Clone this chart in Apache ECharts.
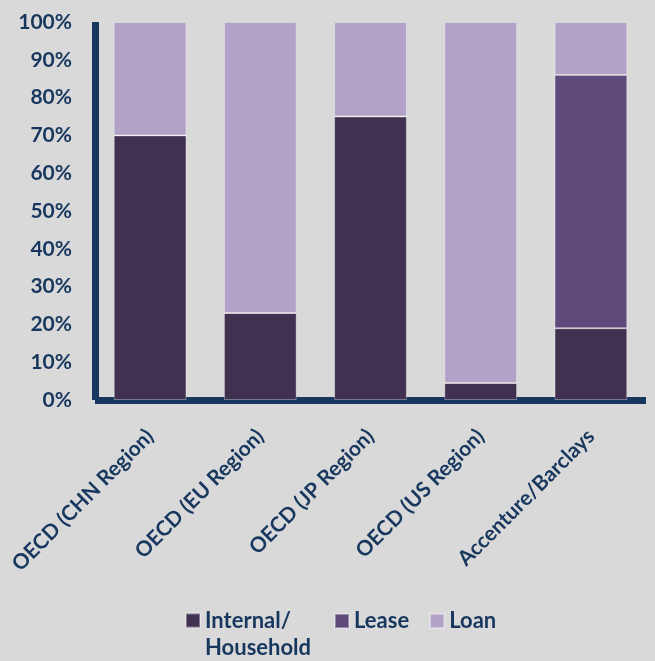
<!DOCTYPE html>
<html>
<head>
<meta charset="utf-8">
<script src="https://cdn.jsdelivr.net/npm/echarts@6/dist/echarts.min.js"></script>
<style>
  html, body { margin: 0; padding: 0; background: #d9d9d9; }
  #chart { width: 655px; height: 661px; }
</style>
</head>
<body>
<div id="chart"></div>
<script>
// Source categories
const categories = ['OECD (CHN Region)', 'OECD (EU Region)', 'OECD (JP Region)', 'OECD (US Region)', 'Accenture/Barclays'];

// Share of financing by type (%)
const internalHousehold = [70, 23, 75, 4.5, 19];
const lease = [0, 0, 0, 0, 67];
const loan = [30, 77, 25, 95.5, 14];

const yTicks = [0, 10, 20, 30, 40, 50, 60, 70, 80, 90, 100];

const seriesNames = ['Internal/\nHousehold', 'Lease', 'Loan'];
const colors = ['#403151', '#604a7b', '#b3a2c7'];

const textColor = '#17375e';
const fontFamily = 'Lato, "Open Sans", sans-serif';

const chart = echarts.init(document.getElementById('chart'));

const barStyle = (c) => ({ color: c, borderColor: 'rgba(255,255,255,0.35)', borderWidth: 1 });

const legendText = {
  color: textColor, fontFamily: fontFamily, fontWeight: 'bold', fontSize: 22, lineHeight: 24
};

chart.setOption({
  backgroundColor: '#d9d9d9',
  animation: false,
  grid: { left: 95, right: 9, top: 22, bottom: 261 },
  xAxis: {
    type: 'category',
    data: categories,
    offset: 4,
    axisLine: { lineStyle: { color: '#17375e', width: 7, cap: 'butt' } },
    axisTick: { show: false },
    axisLabel: {
      rotate: 45,
      margin: 29,
      color: textColor,
      fontFamily: fontFamily,
      fontWeight: 'bold',
      fontSize: 21
    }
  },
  yAxis: {
    type: 'value',
    min: yTicks[0],
    max: yTicks[yTicks.length - 1],
    interval: 10,
    axisLine: { show: true, lineStyle: { color: '#17375e', width: 7, cap: 'butt' } },
    axisTick: { show: false },
    splitLine: { show: false },
    axisLabel: {
      margin: 23,
      color: textColor,
      fontFamily: fontFamily,
      fontWeight: 'bold',
      fontSize: 21,
      formatter: (v) => v + '%'
    }
  },
  legend: [
    {
      // two-line label: a blank leading line keeps the swatch level with the first line
      data: [seriesNames[0]],
      left: 180,
      top: 575,
      icon: 'rect',
      itemWidth: 14,
      itemHeight: 14,
      formatter: (name) => ' \n' + name,
      textStyle: Object.assign({}, legendText, { lineHeight: 27 })
    },
    {
      data: seriesNames.slice(1),
      left: 329,
      top: 604,
      icon: 'rect',
      itemWidth: 14,
      itemHeight: 14,
      itemGap: 20,
      textStyle: legendText
    }
  ],
  series: [
    { name: seriesNames[0], type: 'bar', stack: 'total', barWidth: '66%', data: internalHousehold, itemStyle: barStyle(colors[0]) },
    { name: seriesNames[1], type: 'bar', stack: 'total', barWidth: '66%', data: lease, itemStyle: barStyle(colors[1]) },
    { name: seriesNames[2], type: 'bar', stack: 'total', barWidth: '66%', data: loan, itemStyle: barStyle(colors[2]) }
  ]
});
</script>
</body>
</html>
